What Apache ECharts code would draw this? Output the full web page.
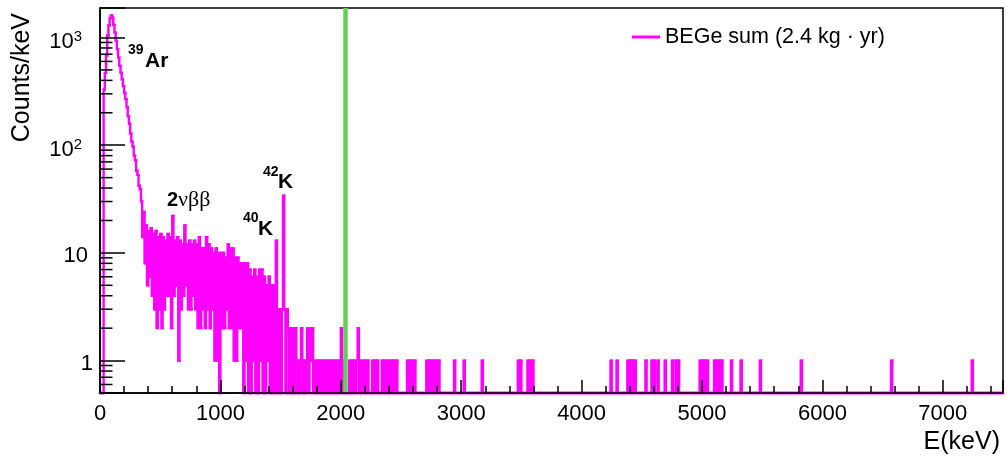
<!DOCTYPE html>
<html>
<head>
<meta charset="utf-8">
<script src="https://cdn.jsdelivr.net/npm/echarts@6/dist/echarts.min.js"></script>
<style>
  html, body { margin: 0; padding: 0; background: #fff; }
  #chart { width: 1007px; height: 459px; }
</style>
</head>
<body>
<div id="chart"></div>
<script>
// ---------------- data ----------------
const SERIES_NAME = 'BEGe sum (2.4 kg \u00B7 yr)';
const BIN_WIDTH_KEV = 10;
const E_MAX_KEV = 7500;
const Q_BB_KEV = 2039;
const Y_MIN = 0.5;
const Y_MAX = 1880;

// counts/keV in 10 keV bins, starting at 0 keV (0 ... 2470 keV)
const DENSE_COUNTS = [
  0, 0, 0, 330, 470, 680, 1050, 1300, 1520, 1600,          // 0-90
  1520, 1310, 1110, 930, 780, 650, 545, 470, 410, 355,      // 100-190
  305, 268, 225, 186, 158, 128, 108, 97, 80, 72,            // 200-290
  58, 53, 42, 39, 30, 14, 24, 8, 18, 5,                     // 300-390
  16, 6, 17, 4, 15, 3, 16, 2, 14, 3,                        // 400-490
  15, 2, 14, 3, 13, 4, 15, 4, 14, 2,                        // 500-590
  22, 4, 13, 5, 14, 1, 13, 3, 12, 4,                        // 600-690
  18, 5, 12, 3, 13, 3, 12, 4, 13, 3,                        // 700-790
  12, 2, 14, 2, 11, 3, 11, 2, 14, 3,                        // 800-890
  12, 2, 11, 3, 10, 1, 11, 1, 10, 0,                        // 900-990
  10, 2, 10, 2, 9, 3, 12, 2, 11, 2,                         // 1000-1090
  11, 1, 9, 1, 9, 2, 8, 2, 8, 0,                            // 1100-1190
  8, 1, 8, 0, 7, 0, 6, 1, 7, 0,                             // 1200-1290
  6, 0, 7, 1, 7, 0, 6, 0, 5, 1,                             // 1300-1390
  6, 0, 5, 0, 5, 0, 13, 3, 0, 3,                            // 1400-1490
  0, 3, 34, 3, 0, 3, 2, 0, 2, 0,                            // 1500-1590
  2, 0, 2, 0, 1, 0, 1, 2, 0, 1,                             // 1600-1690
  0, 1, 2, 0, 2, 1, 2, 0, 1, 0,                             // 1700-1790
  1, 0, 1, 0, 1, 0, 1, 0, 1, 0,                             // 1800-1890
  1, 0, 1, 0, 1, 0, 1, 0, 1, 0,                             // 1900-1990
  2, 0, 1, 0, 0, 0, 0, 1, 0, 1,                             // 2000-2090
  0, 1, 0, 1, 2, 0, 1, 0, 1, 0,                             // 2100-2190
  1, 0, 1, 0, 0, 0, 1, 0, 1, 0,                             // 2200-2290
  1, 0, 0, 0, 1, 0, 1, 0, 1, 0,                             // 2300-2390
  1, 0, 1, 0, 1, 0, 1, 0                                    // 2400-2470
];

// isolated single-count events above 2480 keV (keV)
const SPARSE_EVENTS_KEV = [
  2555, 2575, 2595, 2615,
  2715, 2735, 2755, 2775, 2795, 2815,
  2945, 3025, 3170,
  3475, 3495,
  3555, 3575, 3595,
  4240, 4290,
  4385, 4405, 4425, 4445,
  4530,
  4585, 4605, 4635,
  4695, 4750,
  4785, 4805,
  4985, 5005, 5025, 5045,
  5105, 5125, 5145, 5165,
  5245, 5325, 5485, 5825, 6575, 7245
];

const X_TICK_LABELS = ['0', '1000', '2000', '3000', '4000', '5000', '6000', '7000'];
const Y_MINOR_TICKS = [0.6, 0.7, 0.8, 0.9,
  2, 3, 4, 5, 6, 7, 8, 9,
  20, 30, 40, 50, 60, 70, 80, 90,
  200, 300, 400, 500, 600, 700, 800, 900];

// ---------------- build histogram ----------------
const NBINS = Math.round(E_MAX_KEV / BIN_WIDTH_KEV);
const counts = new Array(NBINS).fill(0);
DENSE_COUNTS.forEach((c, i) => { counts[i] = c; });
SPARSE_EVENTS_KEV.forEach(e => { counts[Math.floor(e / BIN_WIDTH_KEV)] += 1; });
// each item: [bin start, value, previous bin value, bin end]; empty bins sit on the axis floor
const shown = counts.map(c => (c > 0 ? c : Y_MIN));
const histItems = shown.map((v, i) => [i * BIN_WIDTH_KEV, v, i > 0 ? shown[i - 1] : Y_MIN, (i + 1) * BIN_WIDTH_KEV]);

const FONT = "'Liberation Sans', Arial, Helvetica, sans-serif";
const SERIF = "'Liberation Serif', 'DejaVu Serif', serif";
const MAGENTA = '#ff00ff';

const chart = echarts.init(document.getElementById('chart'), null, { renderer: 'canvas' });

function txt(x, y, text, size, bold, family) {
  return {
    type: 'text', x: x, y: y, silent: true,
    style: {
      text: text, fontSize: size, fontWeight: bold ? 'bold' : 'normal',
      fontFamily: family || FONT, fill: '#000', align: 'left', verticalAlign: 'middle'
    }
  };
}

chart.setOption({
  animation: false,
  backgroundColor: '#fff',
  grid: {
    left: 100, right: 4, top: 8, bottom: 66,
    show: true, borderColor: '#000', borderWidth: 1.5, backgroundColor: 'transparent',
    containLabel: false, outerBoundsMode: 'none'
  },
  legend: {
    data: [{ name: SERIES_NAME, itemStyle: { color: MAGENTA } }],
    left: 632, top: 26, padding: 0, itemGap: 0,
    itemWidth: 28, itemHeight: 3, icon: 'rect',
    textStyle: { fontSize: 21.5, fontFamily: FONT, color: '#000' },
    selectedMode: false
  },
  xAxis: {
    type: 'value', min: 0, max: E_MAX_KEV, interval: 1000, z: 3,
    axisLine: { show: true, lineStyle: { color: '#000', width: 1.5 } },
    axisTick: { show: true, inside: true, length: 13, lineStyle: { color: '#000', width: 1.5 } },
    minorTick: { show: true, splitNumber: 5, length: 7, lineStyle: { color: '#000', width: 1.5 } },
    splitLine: { show: false },
    axisLabel: {
      margin: 10, fontSize: 22, fontFamily: FONT, color: '#000',
      formatter: v => (X_TICK_LABELS.indexOf(String(v)) >= 0 ? String(v) : '')
    }
  },
  yAxis: {
    type: 'log', logBase: 10, min: Y_MIN, max: Y_MAX, z: 3,
    axisLine: { show: true, lineStyle: { color: '#000', width: 1.5 } },
    axisTick: { show: true, inside: true, length: 25, lineStyle: { color: '#000', width: 1.5 } },
    minorTick: { show: false },
    splitLine: { show: false },
    axisLabel: {
      margin: 7, fontFamily: FONT, color: '#000', fontSize: 22,
      formatter: v => {
        const e = Math.round(Math.log10(v));
        if (Math.abs(v - Math.pow(10, e)) > 1e-6 * v) return '';
        if (e === 0) return '{one|1}';
        if (e === 1) return '{ten|10}';
        return '{base|10}{sup|' + e + '}';
      },
      rich: {
        one: { fontSize: 22, lineHeight: 22, fontFamily: FONT, color: '#000', padding: [7, 0, 0, 0] },
        ten: { fontSize: 22, lineHeight: 22, fontFamily: FONT, color: '#000', padding: [7, 5, 0, 0] },
        base: { fontSize: 22, lineHeight: 22, fontFamily: FONT, color: '#000', padding: [9, 0, 0, 0] },
        sup: { fontSize: 15, lineHeight: 15, fontFamily: FONT, color: '#000', padding: [3, 11, 0, 0], verticalAlign: 'top' }
      }
    }
  },
  series: [
    {
      name: SERIES_NAME, type: 'custom', z: 2, silent: true, clip: false, progressive: 0,
      itemStyle: { color: MAGENTA },
      encode: { x: 0, y: 1 },
      data: histItems,
      renderItem: (params, api) => {
        const x0 = api.value(0), v = api.value(1), pv = api.value(2), x1 = api.value(3);
        const a = api.coord([x0, pv]);
        const b = api.coord([x0, v]);
        const c = api.coord([x1, v]);
        return {
          type: 'polyline',
          shape: { points: [a, b, c] },
          style: { stroke: MAGENTA, lineWidth: 2.4, fill: null, lineCap: 'square', lineJoin: 'miter' }
        };
      }
    },
    {
      name: 'Qbb', type: 'line', data: [[Q_BB_KEV, Y_MIN], [Q_BB_KEV, Y_MAX]],
      symbol: 'none', z: 2.5, silent: true,
      lineStyle: { color: '#62d153', width: 4.5 }
    },
    {
      name: 'yMinor', type: 'custom', z: 4, silent: true,
      data: Y_MINOR_TICKS.map(v => [0, v]),
      renderItem: (params, api) => {
        const p = api.coord([0, api.value(1)]);
        return {
          type: 'line',
          shape: { x1: p[0], y1: p[1], x2: p[0] + 12.5, y2: p[1] },
          style: { stroke: '#000', lineWidth: 1.5 }
        };
      }
    }
  ],
  graphic: [
    {
      type: 'text', x: 22.5, y: 13, rotation: Math.PI / 2, silent: true,
      style: { text: 'Counts/keV', fontSize: 25, fontFamily: FONT, fill: '#000', align: 'right', verticalAlign: 'middle' }
    },
    {
      type: 'text', x: 1000, y: 442, silent: true,
      style: { text: 'E(keV)', fontSize: 25, fontFamily: FONT, fill: '#000', align: 'right', verticalAlign: 'middle' }
    },
    txt(128, 50, '39', 14, true),
    txt(145, 61, 'Ar', 21, true),
    txt(167, 200, '2', 20, true),
    txt(178, 200, '\u03BD\u03B2\u03B2', 22, false, SERIF),
    txt(243, 218, '40', 14, true),
    txt(258, 229, 'K', 21, true),
    txt(263, 172.5, '42', 14, true),
    txt(278, 182, 'K', 21, true)
  ]
});
</script>
</body>
</html>
